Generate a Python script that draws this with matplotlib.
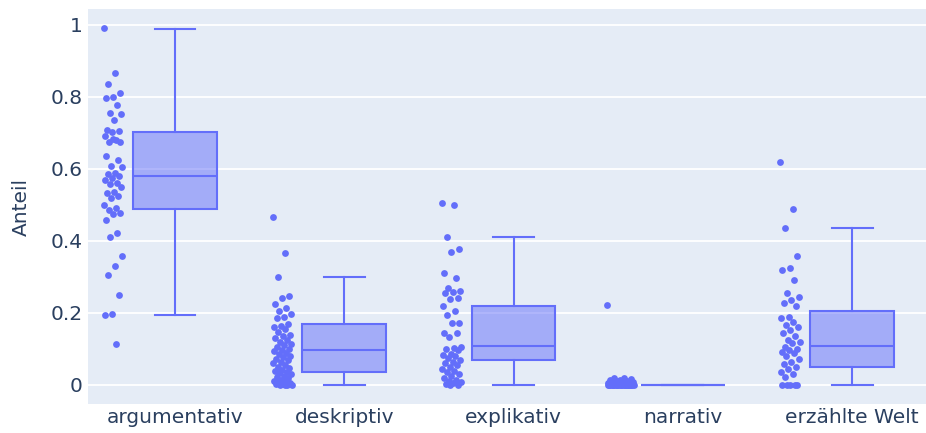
import numpy as np
import matplotlib
matplotlib.use("Agg")
import matplotlib.pyplot as plt

### Data
categories = ["argumentativ", "deskriptiv", "explikativ", "narrativ", "erzählte Welt"]

argumentativ = [0.99, 0.867, 0.835, 0.81, 0.80, 0.797, 0.777, 0.754, 0.753, 0.736,
                0.707, 0.704, 0.703, 0.692, 0.68, 0.676, 0.674, 0.683, 0.636, 0.625,
                0.608, 0.606, 0.588, 0.587, 0.581, 0.574, 0.57, 0.56, 0.559, 0.551,
                0.537, 0.532, 0.524, 0.519, 0.5, 0.491, 0.486, 0.477, 0.476, 0.458,
                0.421, 0.410, 0.357, 0.331, 0.305, 0.251, 0.197, 0.194, 0.114]
deskriptiv = [0.466, 0.367, 0.301, 0.246, 0.24, 0.225, 0.215, 0.205, 0.198, 0.19,
              0.185, 0.17, 0.165, 0.16, 0.155, 0.148, 0.14, 0.135, 0.13, 0.125,
              0.12, 0.115, 0.11, 0.105, 0.10, 0.097, 0.093, 0.09, 0.085, 0.08,
              0.078, 0.072, 0.068, 0.065, 0.06, 0.055, 0.05, 0.047, 0.042, 0.04,
              0.035, 0.032, 0.03, 0.025, 0.022, 0.02, 0.015, 0.012, 0.01, 0.008,
              0.005, 0.003, 0.002, 0.0, 0.0, 0.0, 0.0]
explikativ = [0.505, 0.5, 0.41, 0.377, 0.37, 0.312, 0.296, 0.27, 0.262, 0.258,
              0.255, 0.24, 0.238, 0.22, 0.206, 0.195, 0.173, 0.172, 0.143, 0.145,
              0.133, 0.105, 0.103, 0.1, 0.098, 0.086, 0.083, 0.08, 0.076, 0.068,
              0.065, 0.06, 0.055, 0.049, 0.045, 0.039, 0.035, 0.03, 0.025, 0.02,
              0.015, 0.011, 0.008, 0.005, 0.002, 0.0, 0.0]
narrativ = [0.221, 0.02, 0.018, 0.016, 0.015, 0.013, 0.012, 0.01, 0.009, 0.008,
            0.007, 0.006, 0.005, 0.005, 0.004, 0.003, 0.003, 0.002, 0.002, 0.001,
            0.001, 0.0, 0.0, 0.0, 0.0, 0.0, 0.0, 0.0, 0.0, 0.0,
            0.0, 0.0, 0.0, 0.0, 0.0, 0.0, 0.0, 0.0, 0.0, 0.0]
erzaehlte_welt = [0.62, 0.488, 0.435, 0.358, 0.324, 0.319, 0.29, 0.254, 0.245, 0.236,
                  0.227, 0.218, 0.189, 0.185, 0.176, 0.167, 0.16, 0.153, 0.144, 0.135,
                  0.125, 0.12, 0.116, 0.106, 0.1, 0.097, 0.092, 0.088, 0.079, 0.072,
                  0.065, 0.058, 0.051, 0.044, 0.037, 0.03, 0.023, 0.0, 0.0, 0.0,
                  0.0, 0.0]

# box statistics (as drawn in the reference)
q1 = [0.489, 0.036, 0.068, 0.0, 0.05]
median = [0.581, 0.096, 0.109, 0.0, 0.109]
q3 = [0.703, 0.169, 0.218, 0.0, 0.206]
whislo = [0.194, 0.0, 0.0, 0.0, 0.0]
whishi = [0.989, 0.300, 0.410, 0.0, 0.435]

yticks = [0, 0.2, 0.4, 0.6, 0.8, 1]
ytick_labels = ["0", "0.2", "0.4", "0.6", "0.8", "1"]

### Style
blue = "#636efa"
bg = "#E5ECF6"
txt = "#2a3f5f"
plt.rcParams["font.family"] = ["DejaVu Sans"]

fig = plt.figure(figsize=(9.26, 4.33), dpi=100)
ax = fig.add_axes([88 / 926, 29 / 433, 1 - 88 / 926, 395 / 433])
ax.set_facecolor(bg)
for s in ax.spines.values():
    s.set_visible(False)

pos = np.arange(len(categories))
stats = []
for i in range(len(categories)):
    stats.append(dict(q1=q1[i], med=median[i], q3=q3[i],
                      whislo=whislo[i], whishi=whishi[i], fliers=[]))

ax.bxp(stats, positions=pos, widths=0.496, capwidths=0.242, patch_artist=True,
       showfliers=False,
       boxprops=dict(facecolor=(0.388, 0.431, 0.98, 0.5), edgecolor=blue, linewidth=1.5),
       medianprops=dict(color=blue, linewidth=1.5),
       whiskerprops=dict(color=blue, linewidth=1.5),
       capprops=dict(color=blue, linewidth=1.5), zorder=3)

series = [argumentativ, deskriptiv, explikativ, narrativ, erzaehlte_welt]
spread = [0.055, 0.055, 0.058, 0.08, 0.058]
for i, vals in enumerate(series):
    vals = np.array(vals)
    k = np.arange(len(vals))
    jit = ((k * 0.6180339887) % 1.0 - 0.5) * 2 * spread[i]
    ax.scatter(pos[i] - 0.365 + jit, vals, s=24, color=blue, linewidths=0, zorder=4)

ax.set_xlim(-0.514, 4.437)
ax.set_ylim(-0.053, 1.044)
ax.set_yticks(yticks)
ax.set_yticklabels(ytick_labels)
ax.set_xticks(pos)
ax.set_xticklabels(categories)
ax.grid(axis="y", color="white", linewidth=1.3, zorder=0)
ax.set_axisbelow(True)
ax.tick_params(axis="both", length=0, labelsize=14.5, colors=txt)
ax.tick_params(axis="x", pad=3)
ax.tick_params(axis="y", pad=4)
ax.set_ylabel("Anteil", fontsize=14.5, color=txt, labelpad=14)

fig.savefig("out.png", dpi=100)
